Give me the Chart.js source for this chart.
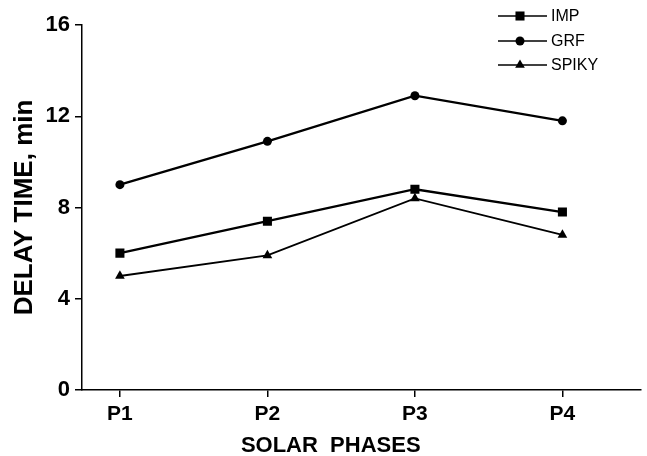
<!DOCTYPE html>
<html>
<head>
<meta charset="utf-8">
<script src="https://cdn.jsdelivr.net/npm/chart.js@4.4.1/dist/chart.umd.min.js"></script>
<style>
  html, body { margin: 0; padding: 0; background: #fff; }
  #wrap { width: 647px; height: 456px; }
</style>
</head>
<body>
<div id="wrap"><canvas id="delayChart" width="647" height="456"></canvas></div>
<script>
// solar phases on the x axis
const phases = ["P1", "P2", "P3", "P4"];
const seriesNames = ["IMP", "GRF", "SPIKY"];
// delay time, min
const impValues = [6.0, 7.4, 8.8, 7.8];
const grfValues = [9.0, 10.9, 12.9, 11.8];
const spikyValues = [5.0, 5.9, 8.4, 6.8];
const yTicks = [0, 4, 8, 12, 16];

const FONT = "'Liberation Sans', Arial, Helvetica, sans-serif";

function toPoints(values) {
  return values.map((v, i) => ({ x: i + 1, y: v }));
}

function lineSet(label, values, style, radius, width) {
  return {
    label: label,
    data: toPoints(values),
    borderColor: "#000",
    backgroundColor: "#000",
    borderWidth: width,
    pointStyle: style,
    pointRadius: radius,
    pointBorderWidth: 0,
    pointBackgroundColor: "#000",
    tension: 0
  };
}

// legend drawn as line-marker-line, top right, over the plot
const lineLegend = {
  id: "lineLegend",
  afterDraw(chart) {
    const ctx = chart.ctx;
    const rows = [16, 41, 65];
    ctx.save();
    chart.data.datasets.forEach((ds, i) => {
      const y = rows[i];
      ctx.strokeStyle = "#000";
      ctx.fillStyle = "#000";
      ctx.lineWidth = 1.6;
      ctx.beginPath();
      ctx.moveTo(498, y);
      ctx.lineTo(547, y);
      ctx.stroke();
      Chart.helpers.drawPoint(ctx, {
        pointStyle: ds.pointStyle,
        radius: ds.pointRadius,
        rotation: 0,
        borderWidth: 0
      }, 520, y);
      ctx.font = "16px " + FONT;
      ctx.textBaseline = "middle";
      ctx.textAlign = "left";
      ctx.fillText(ds.label, 551, y + 1);
    });
    ctx.restore();
  }
};

new Chart(document.getElementById("delayChart"), {
  type: "line",
  data: {
    datasets: [
      lineSet(seriesNames[0], impValues, "rect", 6.4, 2.3),
      lineSet(seriesNames[1], grfValues, "circle", 4.5, 2.3),
      lineSet(seriesNames[2], spikyValues, "triangle", 5.6, 1.9)
    ]
  },
  options: {
    responsive: false,
    animation: false,
    devicePixelRatio: 1,
    layout: { padding: { top: 25, right: 0, left: 0, bottom: 0 } },
    plugins: {
      legend: { display: false },
      tooltip: { enabled: false }
    },
    scales: {
      x: {
        type: "linear",
        min: 0.743,
        max: 4.53,
        afterBuildTicks(scale) {
          scale.ticks = phases.map((p, i) => ({ value: i + 1 }));
        },
        afterFit(scale) { scale.height = 66; },
        ticks: {
          color: "#000",
          font: { family: FONT, size: 21, weight: "bold" },
          padding: 5,
          maxRotation: 0,
          callback: (v) => phases[v - 1]
        },
        grid: {
          display: true,
          drawOnChartArea: false,
          drawTicks: true,
          tickLength: 7,
          color: "#000",
          lineWidth: 1.5
        },
        border: { display: true, color: "#000", width: 1.5 },
        title: {
          display: true,
          text: "SOLAR  PHASES          ",
          color: "#000",
          font: { family: FONT, size: 22, weight: "bold", lineHeight: 0.9 },
          padding: { top: 0, bottom: 0 }
        }
      },
      y: {
        min: 0,
        max: 16,
        afterBuildTicks(scale) {
          scale.ticks = yTicks.map(v => ({ value: v }));
        },
        afterFit(scale) { scale.width = 82; },
        ticks: {
          color: "#000",
          font: { family: FONT, size: 22, weight: "bold" },
          padding: 5
        },
        grid: {
          display: true,
          drawOnChartArea: false,
          drawTicks: true,
          tickLength: 7,
          color: "#000",
          lineWidth: 1.5
        },
        border: { display: true, color: "#000", width: 1.5 },
        title: {
          display: true,
          text: "DELAY TIME, min",
          color: "#000",
          font: { family: FONT, size: 26, weight: "bold" },
          padding: { top: 9, bottom: 0 }
        }
      }
    }
  },
  plugins: [lineLegend]
});
</script>
</body>
</html>
